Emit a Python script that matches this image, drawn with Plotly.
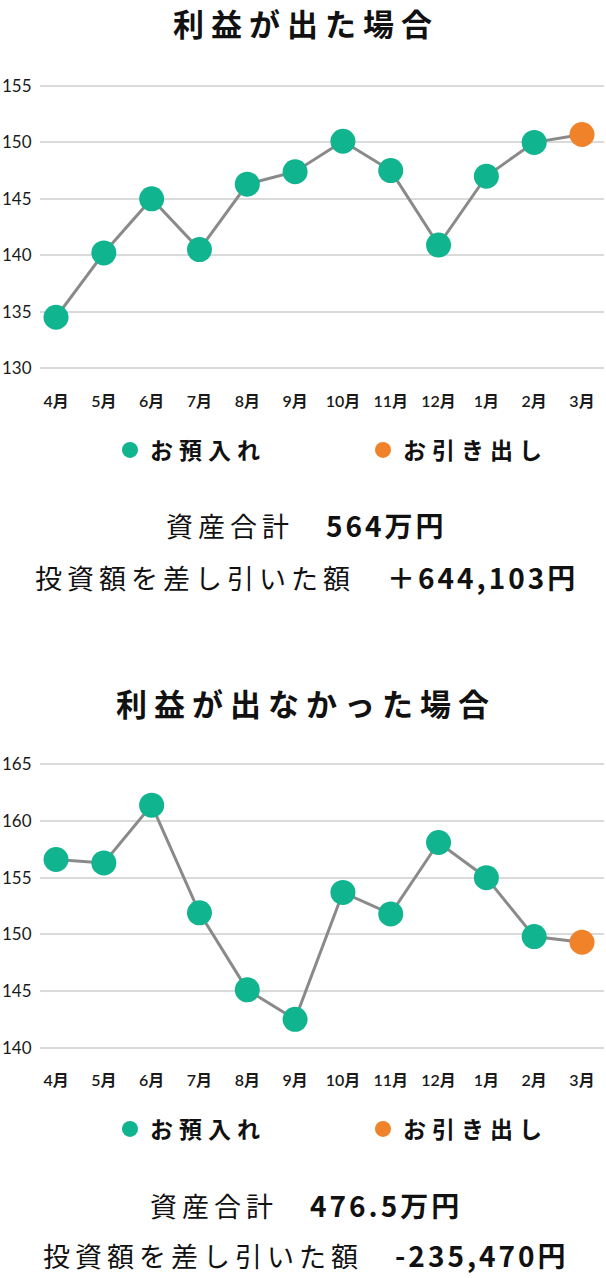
import plotly.graph_objects as go

W, H = 606, 1278

months = ["4月", "5月", "6月", "7月", "8月", "9月", "10月", "11月", "12月", "1月", "2月", "3月"]
profit_values = [134.5, 140.2, 145.0, 140.5, 146.3, 147.4, 150.1, 147.5, 140.9, 147.0, 150.0, 150.7]
loss_values = [156.6, 156.3, 161.4, 151.9, 145.1, 142.5, 153.7, 151.8, 158.1, 155.0, 149.8, 149.3]

titles = ["利益が出た場合", "利益が出なかった場合"]
legend_names = ["お預入れ", "お引き出し"]
total_labels = ["564万円", "476.5万円"]
diff_labels = ["＋644,103円", "-235,470円"]

GREEN = "#10b48f"
ORANGE = "#f0832a"
LINE = "#8a8a8a"
GRID = "#dadada"
JP = "Noto Sans CJK JP"
NUM = "Lato, Noto Sans CJK JP"


def py(pix):
    return 1 - pix / H


def spaced(text, px):
    return "<span style='letter-spacing:%spx'>%s</span>" % (px, text)


fig = go.Figure()

charts = [
    dict(vals=profit_values, xa="x", ya="y", legend="legend"),
    dict(vals=loss_values, xa="x2", ya="y2", legend="legend2"),
]

for c in charts:
    v = c["vals"]
    fig.add_trace(go.Scatter(
        x=months, y=v, mode="lines", xaxis=c["xa"], yaxis=c["ya"],
        line=dict(color=LINE, width=3), showlegend=False, hoverinfo="skip",
        cliponaxis=False))
    fig.add_trace(go.Scatter(
        x=months[:-1], y=v[:-1], mode="markers", xaxis=c["xa"], yaxis=c["ya"],
        name=spaced(legend_names[0], 6), legend=c["legend"],
        marker=dict(color=GREEN, size=25), cliponaxis=False))
    fig.add_trace(go.Scatter(
        x=months[-1:], y=v[-1:], mode="markers", xaxis=c["xa"], yaxis=c["ya"],
        name=spaced(legend_names[1], 6), legend=c["legend"],
        marker=dict(color=ORANGE, size=25), cliponaxis=False))

xdom = [40 / W, 604 / W]
xrange_ = [-0.335, 11.46]

xaxis_common = dict(
    type="category", range=xrange_, domain=xdom, showgrid=False, zeroline=False,
    showline=False, ticks="outside", ticklen=7, tickcolor="rgba(0,0,0,0)",
    tickfont=dict(family=NUM, size=16, color="#1a1a1a", weight=600),
    fixedrange=True,
)
yaxis_common = dict(
    dtick=5, showgrid=True, gridcolor=GRID, gridwidth=2, zeroline=False,
    showline=False, ticks="outside", ticklen=4, tickcolor="rgba(0,0,0,0)",
    tickfont=dict(family=NUM, size=17, color="#1a1a1a"), fixedrange=True,
)

legend_common = dict(
    orientation="h", x=110 / W, xanchor="left", yanchor="middle",
    entrywidth=208, entrywidthmode="pixels",
    font=dict(family=JP, size=23, color="#111111", weight="bold"),
    itemclick=False, itemdoubleclick=False, bgcolor="rgba(0,0,0,0)",
)

fig.update_layout(
    width=W, height=H, margin=dict(l=0, r=0, t=0, b=0, autoexpand=False),
    plot_bgcolor="white", paper_bgcolor="white",
    xaxis=dict(xaxis_common, anchor="y"),
    yaxis=dict(yaxis_common, range=[129, 156], tick0=130,
               domain=[py(379.3), py(74.7)], anchor="x"),
    xaxis2=dict(xaxis_common, anchor="y2"),
    yaxis2=dict(yaxis_common, range=[139, 166], tick0=140,
                domain=[py(1059.0), py(753.0)], anchor="x2"),
    legend=dict(legend_common, y=py(450)),
    legend2=dict(legend_common, y=py(1129)),
    showlegend=True,
)

ann = []
title_y = [22, 703]
total_y = [525, 1205]
diff_y = [577, 1255]
for i in range(2):
    ann.append(dict(
        text=spaced(titles[i], 7),
        x=0.505, y=py(title_y[i]), xref="paper", yref="paper",
        xanchor="center", yanchor="middle", showarrow=False,
        font=dict(family=JP, size=31, color="#111111", weight="bold")))
    ann.append(dict(
        text=spaced("資産合計　", 5) + "<span style='letter-spacing:3px;font-size:28px'><b>%s</b></span>" % total_labels[i],
        x=0.505, y=py(total_y[i]), xref="paper", yref="paper",
        xanchor="center", yanchor="middle", showarrow=False,
        font=dict(family=JP, size=27, color="#111111")))
    ann.append(dict(
        text=spaced("投資額を差し引いた額　", 5) + "<span style='letter-spacing:3px;font-size:28px'><b>%s</b></span>" % diff_labels[i],
        x=0.505, y=py(diff_y[i]), xref="paper", yref="paper",
        xanchor="center", yanchor="middle", showarrow=False,
        font=dict(family=JP, size=27, color="#111111")))
fig.update_layout(annotations=ann)

fig.write_html("out.html", config={"displayModeBar": False},
               post_script="document.body.style.margin='0';")
